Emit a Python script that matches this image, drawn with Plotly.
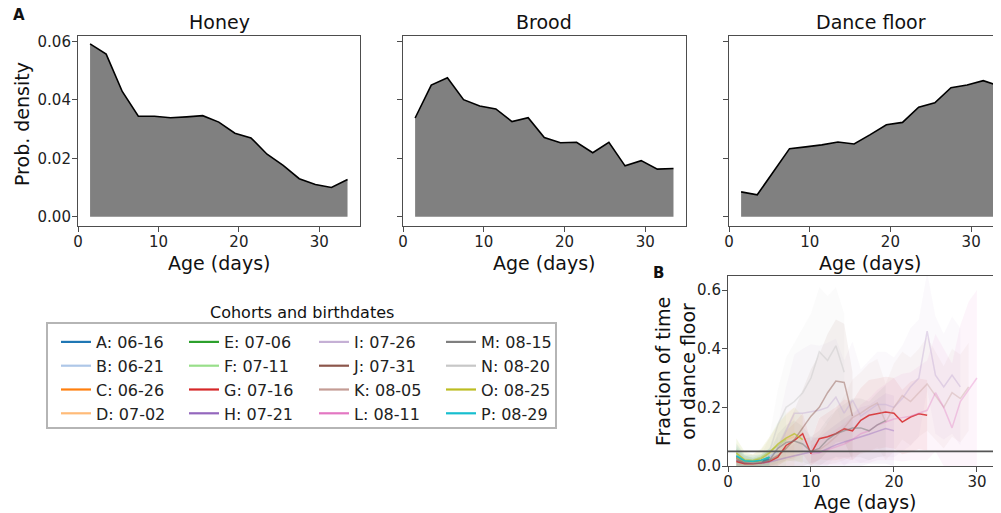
import plotly.graph_objects as go

# page is shown with the browser's default 8px body margin, so the figure is laid out
# 8px smaller and all page-pixel positions are shifted by that offset
OFF = 8
W, H = 1001 - OFF, 513 - OFF
FONT = "DejaVu Sans"

# ---------------- Panel A data ----------------
age_bins = [1.5, 3.5, 5.5, 7.5, 9.5, 11.5, 13.5, 15.5, 17.5, 19.5, 21.5, 23.5, 25.5, 27.5, 29.5, 31.5, 33.5]
honey = [0.0592, 0.0557, 0.0429, 0.0344, 0.0344, 0.0339, 0.0342, 0.0346, 0.0324, 0.0286, 0.0270, 0.0214, 0.0176, 0.0130, 0.0110, 0.0100, 0.0127]
brood = [0.0338, 0.0451, 0.0476, 0.0401, 0.0379, 0.0369, 0.0326, 0.0339, 0.0271, 0.0253, 0.0255, 0.0219, 0.0255, 0.0174, 0.0192, 0.0163, 0.0165]
dance = [0.0085, 0.0075, 0.0154, 0.0233, 0.0239, 0.0246, 0.0256, 0.0249, 0.0281, 0.0315, 0.0323, 0.0375, 0.0390, 0.0442, 0.0451, 0.0466, 0.0448]
panel_titles = ["Honey", "Brood", "Dance floor"]
top_yticks = [0.00, 0.02, 0.04, 0.06]
top_yticklabels = ["0.00", "0.02", "0.04", "0.06"]
xticks = [0, 10, 20, 30]

# ---------------- Panel B data (per cohort: first age, mean, spread) ----------------
cohort_names = ["A: 06-16", "B: 06-21", "C: 06-26", "D: 07-02", "E: 07-06", "F: 07-11", "G: 07-16", "H: 07-21",
                "I: 07-26", "J: 07-31", "K: 08-05", "L: 08-11", "M: 08-15", "N: 08-20", "O: 08-25", "P: 08-29"]
cohort_colors = ["#1f77b4", "#aec7e8", "#ff7f0e", "#ffbb78", "#2ca02c", "#98df8a", "#d62728", "#9467bd",
                 "#c5b0d5", "#8c564b", "#c49c94", "#e377c2", "#7f7f7f", "#c7c7c7", "#bcbd22", "#17becf"]
cohort_first_age = [1, 1, 1, 1, 1, 1, 1, 1, 5, 1, 10, 10, 1, 1, 1, 1]
line_alpha = [0.8, 0.8, 0.8, 0.5, 0.8, 0.6, 0.85, 0.4, 0.45, 0.45, 0.35, 0.35, 0.55, 0.45, 0.7, 0.9]

A_mean = [0.030, 0.016, 0.012, 0.015, 0.024]
A_sd = [0.03, 0.02, 0.015, 0.015, 0.02]
B_mean = [0.036, 0.020, 0.017, 0.021, 0.032, 0.050]
B_sd = [0.04, 0.02, 0.02, 0.02, 0.03, 0.05]
C_mean = [0.028, 0.014, 0.011, 0.014]
C_sd = [0.03, 0.015, 0.012, 0.015]
D_mean = [0.040, 0.022, 0.020, 0.030, 0.050, 0.070, 0.090, 0.100]
D_sd = [0.04, 0.02, 0.02, 0.03, 0.05, 0.07, 0.09, 0.10]
E_mean = [0.032, 0.016, 0.014, 0.019, 0.030]
E_sd = [0.035, 0.02, 0.015, 0.02, 0.03]
F_mean = [0.042, 0.022, 0.020, 0.030, 0.050, 0.070, 0.090]
F_sd = [0.05, 0.025, 0.02, 0.03, 0.05, 0.08, 0.10]
G_mean = [0.015, 0.008, 0.008, 0.010, 0.015, 0.030, 0.070, 0.087, 0.110, 0.042, 0.093, 0.100,
          0.110, 0.127, 0.120, 0.156, 0.173, 0.178, 0.184, 0.180, 0.150, 0.167, 0.178, 0.173]
G_sd = [0.015, 0.01, 0.01, 0.012, 0.02, 0.03, 0.05, 0.06, 0.07, 0.04, 0.07, 0.08,
        0.09, 0.10, 0.10, 0.11, 0.12, 0.12, 0.12, 0.12, 0.11, 0.12, 0.12, 0.12]
H_mean = [0.020, 0.010, 0.009, 0.010, 0.014, 0.020, 0.028, 0.035, 0.042, 0.048, 0.046, 0.060,
          0.072, 0.082, 0.090, 0.100, 0.108, 0.118, 0.128, 0.120]
H_sd = [0.02, 0.01, 0.01, 0.01, 0.015, 0.02, 0.03, 0.04, 0.05, 0.05, 0.05, 0.06,
        0.07, 0.08, 0.09, 0.10, 0.10, 0.11, 0.12, 0.12]
I_mean = [0.020, 0.060, 0.120, 0.180, 0.180, 0.185, 0.190, 0.200, 0.235, 0.180, 0.225, 0.170,
          0.190, 0.210, 0.210, 0.200, 0.230, 0.270, 0.300, 0.460, 0.310, 0.270, 0.310, 0.270]
I_sd = [0.03, 0.08, 0.15, 0.20, 0.22, 0.23, 0.22, 0.22, 0.20, 0.18, 0.20, 0.16,
        0.17, 0.18, 0.18, 0.17, 0.18, 0.20, 0.20, 0.20, 0.20, 0.18, 0.20, 0.20]
J_mean = [0.020, 0.010, 0.010, 0.012, 0.020, 0.035, 0.060, 0.090, 0.130, 0.170, 0.200, 0.250,
          0.290, 0.285, 0.170]
J_sd = [0.02, 0.01, 0.01, 0.01, 0.02, 0.04, 0.07, 0.10, 0.13, 0.16, 0.18, 0.20, 0.21, 0.20, 0.15]
K_mean = [0.045, 0.055, 0.075, 0.100, 0.130, 0.165, 0.180, 0.200, 0.215, 0.150, 0.200, 0.240,
          0.220, 0.250, 0.280, 0.240, 0.200, 0.250, 0.230, 0.270]
K_sd = [0.04, 0.05, 0.07, 0.09, 0.11, 0.13, 0.14, 0.15, 0.15, 0.13, 0.15, 0.15,
        0.15, 0.15, 0.16, 0.15, 0.14, 0.15, 0.15, 0.15]
L_mean = [0.040, 0.045, 0.055, 0.065, 0.075, 0.090, 0.110, 0.120, 0.140, 0.150, 0.160, 0.165,
          0.170, 0.180, 0.190, 0.250, 0.200, 0.130, 0.220, 0.260, 0.300]
L_sd = [0.03, 0.04, 0.05, 0.06, 0.07, 0.08, 0.10, 0.11, 0.12, 0.13, 0.14, 0.15,
        0.15, 0.16, 0.17, 0.20, 0.20, 0.22, 0.26, 0.30, 0.30]
M_mean = [0.025, 0.012, 0.010, 0.012, 0.020, 0.060, 0.080, 0.085, 0.075, 0.050, 0.060, 0.090,
          0.110, 0.120, 0.130, 0.130, 0.120, 0.140, 0.155]
M_sd = [0.02, 0.01, 0.01, 0.01, 0.02, 0.05, 0.06, 0.07, 0.06, 0.05, 0.06, 0.07,
        0.08, 0.09, 0.10, 0.10, 0.10, 0.11, 0.12]
N_mean = [0.030, 0.015, 0.012, 0.015, 0.050, 0.140, 0.200, 0.220, 0.250, 0.300, 0.390, 0.360, 0.410, 0.320]
N_sd = [0.03, 0.015, 0.015, 0.02, 0.05, 0.12, 0.17, 0.20, 0.22, 0.22, 0.22, 0.22, 0.20, 0.20]
O_mean = [0.045, 0.020, 0.018, 0.025, 0.045, 0.075, 0.095, 0.110, 0.090]
O_sd = [0.05, 0.03, 0.02, 0.03, 0.05, 0.07, 0.08, 0.09, 0.08]
P_mean = [0.035, 0.018, 0.016, 0.020, 0.030]
P_sd = [0.04, 0.02, 0.02, 0.02, 0.03]

cohort_means = [A_mean, B_mean, C_mean, D_mean, E_mean, F_mean, G_mean, H_mean,
                I_mean, J_mean, K_mean, L_mean, M_mean, N_mean, O_mean, P_mean]
cohort_sds = [A_sd, B_sd, C_sd, D_sd, E_sd, F_sd, G_sd, H_sd,
              I_sd, J_sd, K_sd, L_sd, M_sd, N_sd, O_sd, P_sd]
chance_level = 0.05
B_yticks = [0.0, 0.2, 0.4, 0.6]
B_yticklabels = ["0.0", "0.2", "0.4", "0.6"]


def px_x(p):
    return (p - OFF) / W


def px_y(p):
    return 1 - (p - OFF) / H


def rgba(hexc, a):
    h = hexc.lstrip("#")
    return "rgba(%d,%d,%d,%.3f)" % (int(h[0:2], 16), int(h[2:4], 16), int(h[4:6], 16), a)


fig = go.Figure()

# ---- Panel A: three density areas ----
for i, vals in enumerate([honey, brood, dance]):
    sfx = "" if i == 0 else str(i + 1)
    fig.add_trace(go.Scatter(x=age_bins, y=vals, mode="lines", fill="tozeroy",
                             fillcolor="#808080", line=dict(color="black", width=1.6),
                             xaxis="x" + sfx, yaxis="y" + sfx, showlegend=False, hoverinfo="skip"))

# ---- Panel B: bands then lines ----
for k in range(len(cohort_names)):
    m = cohort_means[k]
    s = cohort_sds[k]
    ages = [cohort_first_age[k] + j for j in range(len(m))]
    upper = [mv + sv for mv, sv in zip(m, s)]
    lower = [max(0.0, mv - sv) for mv, sv in zip(m, s)]
    fig.add_trace(go.Scatter(x=ages + ages[::-1], y=upper + lower[::-1], fill="toself",
                             fillcolor=rgba(cohort_colors[k], 0.07), line=dict(width=0),
                             mode="lines", xaxis="x4", yaxis="y4", showlegend=False, hoverinfo="skip"))
for k in range(len(cohort_names)):
    m = cohort_means[k]
    ages = [cohort_first_age[k] + j for j in range(len(m))]
    fig.add_trace(go.Scatter(x=ages, y=m, mode="lines",
                             line=dict(color=rgba(cohort_colors[k], line_alpha[k]), width=1.5),
                             xaxis="x4", yaxis="y4", showlegend=False, hoverinfo="skip"))

# ---- legend entries (4 columns, column-major) ----
legend_ids = ["legend", "legend2", "legend3", "legend4"]
for k, name in enumerate(cohort_names):
    fig.add_trace(go.Scatter(x=[None], y=[None], mode="lines", name=name,
                             line=dict(color=cohort_colors[k], width=2.2),
                             xaxis="x4", yaxis="y4", legend=legend_ids[k // 4], showlegend=True))

axis_common = dict(showline=True, linecolor="#4d4d4d", linewidth=1.1, ticks="outside", ticklen=5,
                   tickwidth=1, tickcolor="#4d4d4d", showgrid=False, zeroline=False,
                   tickfont=dict(family=FONT, size=15, color="#222"), automargin=False)
xcommon = dict(axis_common, ticklabelstandoff=-3)
ycommon = dict(axis_common, ticklabelstandoff=-2)

top_y = [px_y(226), px_y(36)]
layout = dict(
    width=W, height=H, margin=dict(l=0, r=0, t=0, b=0),
    paper_bgcolor="white", plot_bgcolor="white",
    font=dict(family=FONT, color="#222"),
    xaxis=dict(domain=[px_x(78), px_x(360)], range=[0, 35.05], tickvals=xticks, mirror=True, anchor="y", **xcommon),
    yaxis=dict(domain=top_y, range=[-0.0032, 0.0619], tickvals=top_yticks, ticktext=top_yticklabels,
               mirror=True, anchor="x", **ycommon),
    xaxis2=dict(domain=[px_x(403), px_x(686)], range=[0, 35.05], tickvals=xticks, mirror=True, anchor="y2", **xcommon),
    yaxis2=dict(domain=top_y, range=[-0.0032, 0.0619], tickvals=top_yticks, showticklabels=False,
                mirror=True, anchor="x2", **ycommon),
    xaxis3=dict(domain=[px_x(729), 1.0], range=[0, 33.7], tickvals=xticks, mirror=True, anchor="y3", **xcommon),
    yaxis3=dict(domain=top_y, range=[-0.0032, 0.0619], tickvals=top_yticks, showticklabels=False,
                anchor="x3", **ycommon),
    xaxis4=dict(domain=[px_x(728), 1.0], range=[0, 32.9], tickvals=xticks, mirror=True, anchor="y4", **xcommon),
    yaxis4=dict(domain=[px_y(466), px_y(276)], range=[0, 0.648], tickvals=B_yticks, ticktext=B_yticklabels,
                anchor="x4", **ycommon),
)
col_left = [56, 184, 314, 441]
for i, lid in enumerate(legend_ids):
    layout[lid] = dict(x=px_x(col_left[i]), y=px_y(325), xanchor="left", yanchor="top",
                       orientation="v", bgcolor="rgba(0,0,0,0)", borderwidth=0, tracegroupgap=0,
                       itemwidth=30, font=dict(family=FONT, size=16, color="#222"))
fig.update_layout(**layout)

# legend frame
fig.add_shape(type="rect", xref="paper", yref="paper", x0=px_x(47), x1=px_x(556), y0=px_y(428), y1=px_y(323),
              line=dict(color="#b5b5b5", width=2), fillcolor="rgba(0,0,0,0)")
# chance-level line in panel B
fig.add_shape(type="line", xref="x4 domain", yref="y4", x0=0, x1=1, y0=chance_level, y1=chance_level,
              line=dict(color="#555555", width=1.6))

ann = []


def add_text(text, xp, yp, size, bold=False, angle=0):
    ann.append(dict(text=("<b>%s</b>" % text) if bold else text, x=px_x(xp), y=px_y(yp), xref="paper", yref="paper",
                    xanchor="center", yanchor="middle", showarrow=False, textangle=angle,
                    font=dict(family=FONT, size=size, color="#111")))


add_text(panel_titles[0], 219, 22, 19)
add_text(panel_titles[1], 544, 22, 19)
add_text(panel_titles[2], 871, 22, 19)
add_text("Age (days)", 219, 263, 19)
add_text("Age (days)", 544, 263, 19)
add_text("Age (days)", 870, 263, 19)
add_text("Prob. density", 22, 124, 19, angle=-90)
add_text("Age (days)", 865, 502, 19)
add_text("Fraction of time<br>on dance floor", 675, 372, 19, angle=-90)
add_text("A", 19, 15, 15, bold=True)
add_text("B", 658, 273, 15, bold=True)
add_text("Cohorts and birthdates", 302, 312, 16)
fig.update_layout(annotations=ann)

fig.write_html("out.html")
